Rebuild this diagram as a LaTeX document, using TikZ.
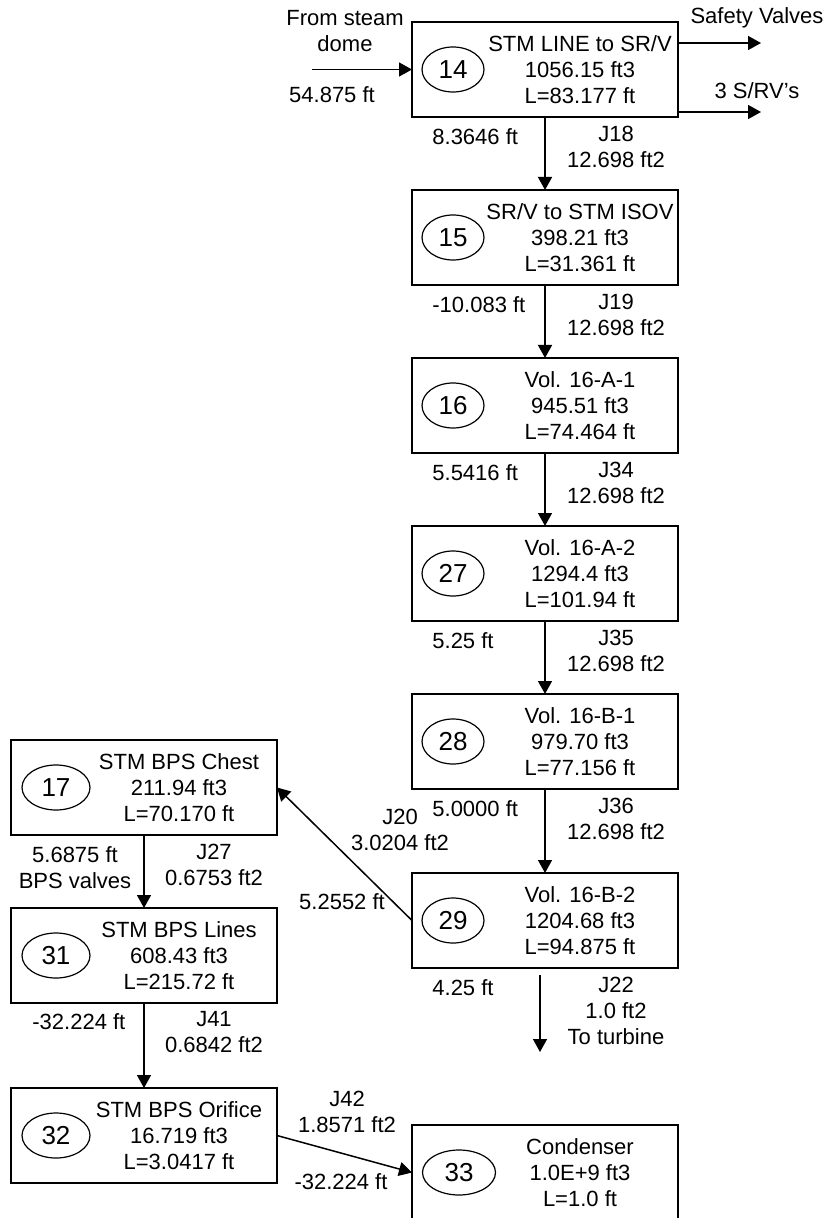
\documentclass[tikz,border=0pt]{standalone}
\usepackage{fontspec}
\setmainfont{Liberation Sans}
\usetikzlibrary{arrows.meta,positioning,shapes.geometric}

\begin{document}
\begin{tikzpicture}[x=0.5pt, y=-0.5pt, node distance=36.5pt,
    every node/.style={font=\fontsize{11}{13}\selectfont},
    volbox/.style={draw, line width=1pt, minimum width=133pt, minimum height=47.5pt, inner sep=0pt, outer sep=0pt},
    volnum/.style={draw, ellipse, line width=0.6pt, minimum width=31pt, minimum height=22.5pt, inner sep=0pt, font=\fontsize{13}{13}\selectfont},
    voltxt/.style={align=center, inner sep=0pt},
    jlbl/.style={align=center, inner sep=0pt},
    flow/.style={-{Triangle[length=6.5pt,width=7pt]}, line width=0.75pt}]
    \useasboundingbox (0,0) rectangle (831,1218);

    % main steam line
    \node[volbox] (n14) at (545,69.5) {};
    \node[volnum] (e14) at ([xshift=20.5pt]n14.west) {14};
    \node[voltxt] (t14) at ([xshift=17.5pt]n14.center) {STM LINE to SR/V\\1056.15 ft3\\L=83.177 ft};

    \node[volbox, below=of n14] (n15) {};
    \node[volnum] (e15) at ([xshift=20.5pt]n15.west) {15};
    \node[voltxt] (t15) at ([xshift=17.5pt]n15.center) {SR/V to STM ISOV\\398.21 ft3\\L=31.361 ft};

    \node[volbox, below=of n15] (n16) {};
    \node[volnum] (e16) at ([xshift=20.5pt]n16.west) {16};
    \node[voltxt] (t16) at ([xshift=17.5pt]n16.center) {Vol. 16-A-1\\945.51 ft3\\L=74.464 ft};

    \node[volbox, below=of n16] (n27) {};
    \node[volnum] (e27) at ([xshift=20.5pt]n27.west) {27};
    \node[voltxt] (t27) at ([xshift=17.5pt]n27.center) {Vol. 16-A-2\\1294.4 ft3\\L=101.94 ft};

    \node[volbox, below=of n27] (n28) {};
    \node[volnum] (e28) at ([xshift=20.5pt]n28.west) {28};
    \node[voltxt] (t28) at ([xshift=17.5pt]n28.center) {Vol. 16-B-1\\979.70 ft3\\L=77.156 ft};

    \node[volbox, below=42pt of n28] (n29) {};
    \node[volnum] (e29) at ([xshift=20.5pt]n29.west) {29};
    \node[voltxt] (t29) at ([xshift=17.5pt]n29.center) {Vol. 16-B-2\\1204.68 ft3\\L=94.875 ft};

    \node[volbox, below=78.5pt of n29] (n33) {};
    \node[volnum, minimum width=36.5pt] (e33) at ([xshift=23.5pt]n33.west) {33};
    \node[voltxt] (t33) at ([xshift=17.5pt]n33.center) {Condenser\\1.0E+9 ft3\\L=1.0 ft};

    % bypass branch
    \node[volbox] (n17) at (144,787.5) {};
    \node[volnum, minimum width=34pt] (e17) at ([xshift=22.5pt]n17.west) {17};
    \node[voltxt] (t17) at ([xshift=17.5pt]n17.center) {STM BPS Chest\\211.94 ft3\\L=70.170 ft};

    \node[volbox, below=of n17] (n31) {};
    \node[volnum, minimum width=34pt] (e31) at ([xshift=22.5pt]n31.west) {31};
    \node[voltxt] (t31) at ([xshift=17.5pt]n31.center) {STM BPS Lines\\608.43 ft3\\L=215.72 ft};

    \node[volbox, below=42.5pt of n31] (n32) {};
    \node[volnum, minimum width=34pt] (e32) at ([xshift=22.5pt]n32.west) {32};
    \node[voltxt] (t32) at ([xshift=17.5pt]n32.center) {STM BPS Orifice\\16.719 ft3\\L=3.0417 ft};

    % free ends
    \coordinate (dome) at ([xshift=-50pt]n14.west);
    \coordinate (sv) at (761,43);
    \coordinate (srv) at (761,112);
    \coordinate (turbtop) at (540,975);
    \coordinate (turb) at (540,1052);

    % junctions
    \draw[flow] (dome) -- (n14.west);
    \draw[flow] (n14.east |- sv) -- (sv);
    \draw[flow] (n14.east |- srv) -- (srv);
    \draw[flow] (n14) -- (n15);
    \draw[flow] (n15) -- (n16);
    \draw[flow] (n16) -- (n27);
    \draw[flow] (n27) -- (n28);
    \draw[flow] (n28) -- (n29);
    \draw[flow] (turbtop) -- (turb);
    \draw[flow] (n29.west) -- (n17.east);
    \draw[flow] (n17) -- (n31);
    \draw[flow] (n31) -- (n32);
    \draw[flow] (n32.east) -- (n33.west);

    % labels
    \node[jlbl] (ldome) at ([xshift=-33.5pt,yshift=19pt]n14.west) {From steam\\dome};
    \node[jlbl] (hdome) at ([xshift=-40pt,yshift=-12.75pt]n14.west) {54.875 ft};
    \node[jlbl] (lsv) at (757,18) {Safety Valves};
    \node[jlbl] (lsrv) at (757,91) {3 S/RV’s};

    \node[jlbl, anchor=west] (h18) at ([xshift=10pt,yshift=-10pt]n14.south west) {8.3646 ft};
    \node[jlbl] (j18) at ([xshift=35.5pt,yshift=-14.75pt]n14.south) {J18\\12.698 ft2};
    \node[jlbl, anchor=west] (h19) at ([xshift=10pt,yshift=-10pt]n15.south west) {-10.083 ft};
    \node[jlbl] (j19) at ([xshift=35.5pt,yshift=-14.75pt]n15.south) {J19\\12.698 ft2};
    \node[jlbl, anchor=west] (h34) at ([xshift=10pt,yshift=-10pt]n16.south west) {5.5416 ft};
    \node[jlbl] (j34) at ([xshift=35.5pt,yshift=-14.75pt]n16.south) {J34\\12.698 ft2};
    \node[jlbl, anchor=west] (h35) at ([xshift=10pt,yshift=-10pt]n27.south west) {5.25 ft};
    \node[jlbl] (j35) at ([xshift=35.5pt,yshift=-14.75pt]n27.south) {J35\\12.698 ft2};
    \node[jlbl, anchor=west] (h36) at ([xshift=10pt,yshift=-10pt]n28.south west) {5.0000 ft};
    \node[jlbl] (j36) at ([xshift=35.5pt,yshift=-14.75pt]n28.south) {J36\\12.698 ft2};
    \node[jlbl, anchor=west] (h22) at ([xshift=10pt,yshift=-10pt]n29.south west) {4.25 ft};
    \node[jlbl] (j22) at ([xshift=35.5pt,yshift=-21.25pt]n29.south) {J22\\1.0 ft2\\To turbine};

    \node[jlbl] (j20) at ([xshift=-6pt,yshift=45.25pt]n29.west) {J20\\3.0204 ft2};
    \node[jlbl] (h20) at ([xshift=-35pt,yshift=9.25pt]n29.west) {5.2552 ft};

    \node[jlbl] (h27) at ([xshift=32pt,yshift=-16.5pt]n17.south west) {5.6875 ft\\BPS valves};
    \node[jlbl] (j27) at ([xshift=35pt,yshift=-14.75pt]n17.south) {J27\\0.6753 ft2};
    \node[jlbl, anchor=west] (h41) at ([xshift=10.5pt,yshift=-9.5pt]n31.south west) {-32.224 ft};
    \node[jlbl] (j41) at ([xshift=35pt,yshift=-14.75pt]n31.south) {J41\\0.6842 ft2};

    \node[jlbl] (j42) at ([xshift=35pt,yshift=12pt]n32.east) {J42\\1.8571 ft2};
    \node[jlbl] (h42) at ([xshift=32pt,yshift=-23pt]n32.east) {-32.224 ft};
\end{tikzpicture}
\end{document}
